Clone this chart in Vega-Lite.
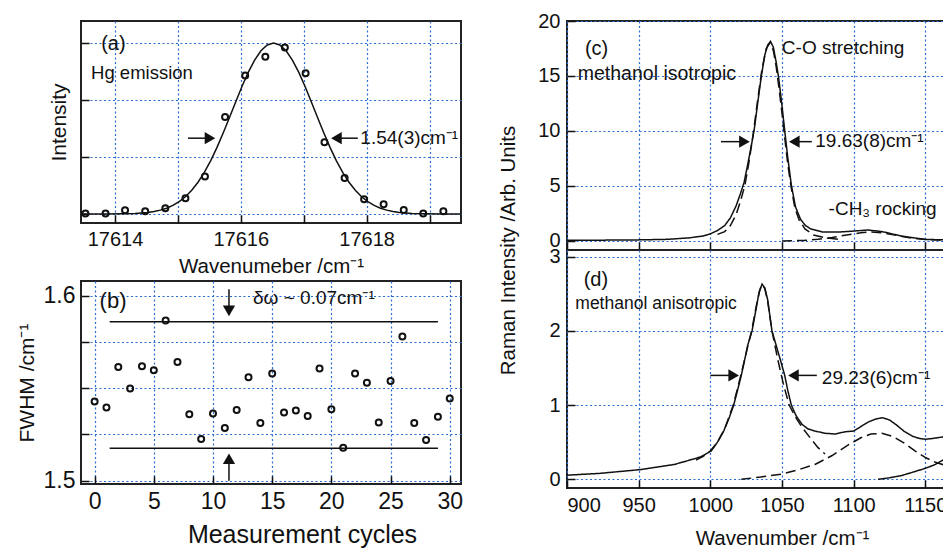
{
  "$schema": "https://vega.github.io/schema/vega-lite/v6.json",
  "background": "white",
  "padding": {"left": 15, "top": 10, "right": 0, "bottom": 0},
  "config": {
    "font": "Liberation Sans",
    "view": {"stroke": "#222", "strokeWidth": 2},
    "axis": {
      "grid": true, "gridColor": "#2a6ccf", "gridDash": [2, 2.5], "gridWidth": 1.2,
      "domain": false, "tickColor": "#111", "tickSize": -8, "tickWidth": 1.5,
      "labelFont": "Liberation Sans", "titleFont": "Liberation Sans",
      "labelColor": "#111", "titleColor": "#111", "titleFontWeight": "normal",
      "labelFontSize": 20, "titleFontSize": 20.5
    },
    "text": {"font": "Liberation Sans", "color": "#111"}
  },
  "datasets": {
    "a_pts": [
      {"x": 17613.53, "y": 0.01}, {"x": 17613.85, "y": 0.01}, {"x": 17614.16, "y": 0.065},
      {"x": 17614.48, "y": 0.047}, {"x": 17614.8, "y": 0.1}, {"x": 17615.12, "y": 0.275},
      {"x": 17615.43, "y": 0.66}, {"x": 17615.75, "y": 1.7}, {"x": 17616.07, "y": 2.43},
      {"x": 17616.39, "y": 2.76}, {"x": 17616.7, "y": 2.92}, {"x": 17617.03, "y": 2.47},
      {"x": 17617.33, "y": 1.26}, {"x": 17617.65, "y": 0.63}, {"x": 17617.96, "y": 0.26},
      {"x": 17618.27, "y": 0.17}, {"x": 17618.59, "y": 0.07}, {"x": 17618.9, "y": 0.01},
      {"x": 17619.22, "y": 0.05}
    ],
    "a_fit": [
      {"x": 17613.46, "y": 0.0}, {"x": 17613.82, "y": 0.001}, {"x": 17614.12, "y": 0.004},
      {"x": 17614.32, "y": 0.01}, {"x": 17614.52, "y": 0.028}, {"x": 17614.62, "y": 0.044},
      {"x": 17614.72, "y": 0.068}, {"x": 17614.82, "y": 0.102}, {"x": 17614.92, "y": 0.15},
      {"x": 17615.02, "y": 0.216}, {"x": 17615.12, "y": 0.303}, {"x": 17615.22, "y": 0.416},
      {"x": 17615.32, "y": 0.557}, {"x": 17615.42, "y": 0.729}, {"x": 17615.52, "y": 0.932},
      {"x": 17615.62, "y": 1.164}, {"x": 17615.72, "y": 1.42}, {"x": 17615.82, "y": 1.692},
      {"x": 17615.92, "y": 1.97}, {"x": 17616.02, "y": 2.24}, {"x": 17616.12, "y": 2.488},
      {"x": 17616.22, "y": 2.7}, {"x": 17616.32, "y": 2.863}, {"x": 17616.42, "y": 2.965},
      {"x": 17616.52, "y": 3.0}, {"x": 17616.62, "y": 2.965}, {"x": 17616.72, "y": 2.863},
      {"x": 17616.82, "y": 2.7}, {"x": 17616.92, "y": 2.488}, {"x": 17617.02, "y": 2.24},
      {"x": 17617.12, "y": 1.97}, {"x": 17617.22, "y": 1.692}, {"x": 17617.32, "y": 1.42},
      {"x": 17617.42, "y": 1.164}, {"x": 17617.52, "y": 0.932}, {"x": 17617.62, "y": 0.729},
      {"x": 17617.72, "y": 0.557}, {"x": 17617.82, "y": 0.416}, {"x": 17617.92, "y": 0.303},
      {"x": 17618.02, "y": 0.216}, {"x": 17618.12, "y": 0.15}, {"x": 17618.22, "y": 0.102},
      {"x": 17618.32, "y": 0.068}, {"x": 17618.42, "y": 0.044}, {"x": 17618.52, "y": 0.028},
      {"x": 17618.72, "y": 0.01}, {"x": 17618.92, "y": 0.004}, {"x": 17619.22, "y": 0.001},
      {"x": 17619.5, "y": 0.0}
    ],
    "b_pts": [
      {"x": 0, "y": 1.5429}, {"x": 1, "y": 1.5396}, {"x": 2, "y": 1.5616}, {"x": 3, "y": 1.5499},
      {"x": 4, "y": 1.562}, {"x": 5, "y": 1.5598}, {"x": 6, "y": 1.5867}, {"x": 7, "y": 1.5643},
      {"x": 8, "y": 1.536}, {"x": 9, "y": 1.5225}, {"x": 10, "y": 1.5364}, {"x": 11, "y": 1.5285},
      {"x": 12, "y": 1.5382}, {"x": 13, "y": 1.556}, {"x": 14, "y": 1.5312}, {"x": 15, "y": 1.558},
      {"x": 16, "y": 1.5369}, {"x": 17, "y": 1.538}, {"x": 18, "y": 1.535}, {"x": 19, "y": 1.5607},
      {"x": 20, "y": 1.5387}, {"x": 21, "y": 1.5178}, {"x": 22, "y": 1.558}, {"x": 23, "y": 1.553},
      {"x": 24, "y": 1.5315}, {"x": 25, "y": 1.5539}, {"x": 26, "y": 1.578}, {"x": 27, "y": 1.5312},
      {"x": 28, "y": 1.522}, {"x": 29, "y": 1.5346}, {"x": 30, "y": 1.5445}
    ],
    "c_lines": [
      {"s": "meas", "x": 900, "y": 0.06}, {"s": "meas", "x": 930, "y": 0.08}, {"s": "meas", "x": 950, "y": 0.1},
      {"s": "meas", "x": 970, "y": 0.15}, {"s": "meas", "x": 985, "y": 0.28}, {"s": "meas", "x": 995, "y": 0.45},
      {"s": "meas", "x": 1000, "y": 0.65}, {"s": "meas", "x": 1005, "y": 0.95}, {"s": "meas", "x": 1010, "y": 1.4},
      {"s": "meas", "x": 1014, "y": 2.1}, {"s": "meas", "x": 1018, "y": 3.2}, {"s": "meas", "x": 1021, "y": 4.3},
      {"s": "meas", "x": 1023.5, "y": 5.3}, {"s": "meas", "x": 1026, "y": 6.9}, {"s": "meas", "x": 1028.5, "y": 8.6},
      {"s": "meas", "x": 1030.7, "y": 10.2}, {"s": "meas", "x": 1033, "y": 12.5}, {"s": "meas", "x": 1035.6, "y": 15},
      {"s": "meas", "x": 1038, "y": 16.9}, {"s": "meas", "x": 1040, "y": 17.8}, {"s": "meas", "x": 1042, "y": 18.15},
      {"s": "meas", "x": 1044, "y": 17.6}, {"s": "meas", "x": 1046, "y": 16.2}, {"s": "meas", "x": 1047.7, "y": 14.8},
      {"s": "meas", "x": 1050, "y": 12.3}, {"s": "meas", "x": 1052, "y": 9.9}, {"s": "meas", "x": 1054, "y": 7.6},
      {"s": "meas", "x": 1056.5, "y": 5.1}, {"s": "meas", "x": 1059.4, "y": 3.1}, {"s": "meas", "x": 1063, "y": 1.95},
      {"s": "meas", "x": 1066.4, "y": 1.4}, {"s": "meas", "x": 1070, "y": 1.1}, {"s": "meas", "x": 1078, "y": 0.82},
      {"s": "meas", "x": 1090, "y": 0.82}, {"s": "meas", "x": 1100, "y": 0.9}, {"s": "meas", "x": 1110, "y": 1.0},
      {"s": "meas", "x": 1120, "y": 0.85}, {"s": "meas", "x": 1134, "y": 0.43}, {"s": "meas", "x": 1150, "y": 0.14},
      {"s": "meas", "x": 1165, "y": 0.1}, {"s": "meas", "x": 1200, "y": 0.08},
      {"s": "fit1", "x": 1005, "y": 0.6}, {"s": "fit1", "x": 1010, "y": 0.85}, {"s": "fit1", "x": 1014, "y": 1.4},
      {"s": "fit1", "x": 1018, "y": 2.4}, {"s": "fit1", "x": 1021, "y": 3.6}, {"s": "fit1", "x": 1024, "y": 5.0},
      {"s": "fit1", "x": 1027, "y": 7.2}, {"s": "fit1", "x": 1030, "y": 9.8}, {"s": "fit1", "x": 1033, "y": 12.8},
      {"s": "fit1", "x": 1036, "y": 15.6}, {"s": "fit1", "x": 1039, "y": 17.5}, {"s": "fit1", "x": 1041.5, "y": 18.0},
      {"s": "fit1", "x": 1044, "y": 17.3}, {"s": "fit1", "x": 1046, "y": 15.8}, {"s": "fit1", "x": 1048, "y": 13.8},
      {"s": "fit1", "x": 1050, "y": 11.6}, {"s": "fit1", "x": 1052, "y": 9.3}, {"s": "fit1", "x": 1054, "y": 7.0},
      {"s": "fit1", "x": 1056.5, "y": 4.8}, {"s": "fit1", "x": 1059, "y": 3.0}, {"s": "fit1", "x": 1062, "y": 1.9},
      {"s": "fit1", "x": 1066, "y": 1.1}, {"s": "fit1", "x": 1072, "y": 0.55}, {"s": "fit1", "x": 1080, "y": 0.3},
      {"s": "fit1", "x": 1090, "y": 0.15},
      {"s": "fit2", "x": 1050, "y": 0.0}, {"s": "fit2", "x": 1065, "y": 0.05}, {"s": "fit2", "x": 1075, "y": 0.15},
      {"s": "fit2", "x": 1085, "y": 0.32}, {"s": "fit2", "x": 1095, "y": 0.55}, {"s": "fit2", "x": 1105, "y": 0.75},
      {"s": "fit2", "x": 1112, "y": 0.82}, {"s": "fit2", "x": 1120, "y": 0.75}, {"s": "fit2", "x": 1130, "y": 0.5},
      {"s": "fit2", "x": 1140, "y": 0.28}, {"s": "fit2", "x": 1150, "y": 0.14}, {"s": "fit2", "x": 1165, "y": 0.06},
      {"s": "fit2", "x": 1200, "y": 0.02}
    ],
    "d_lines": [
      {"s": "meas", "x": 900, "y": 0.055}, {"s": "meas", "x": 923, "y": 0.08}, {"s": "meas", "x": 951, "y": 0.13},
      {"s": "meas", "x": 975, "y": 0.2}, {"s": "meas", "x": 993, "y": 0.3}, {"s": "meas", "x": 1000.5, "y": 0.38},
      {"s": "meas", "x": 1005, "y": 0.5}, {"s": "meas", "x": 1009.3, "y": 0.65}, {"s": "meas", "x": 1013, "y": 0.82},
      {"s": "meas", "x": 1016.3, "y": 1.0}, {"s": "meas", "x": 1019, "y": 1.2}, {"s": "meas", "x": 1021.6, "y": 1.4},
      {"s": "meas", "x": 1023.3, "y": 1.55}, {"s": "meas", "x": 1026, "y": 1.8}, {"s": "meas", "x": 1029.1, "y": 2.0},
      {"s": "meas", "x": 1031.5, "y": 2.25}, {"s": "meas", "x": 1034, "y": 2.52}, {"s": "meas", "x": 1036.1, "y": 2.63},
      {"s": "meas", "x": 1038, "y": 2.58}, {"s": "meas", "x": 1040, "y": 2.42}, {"s": "meas", "x": 1043, "y": 2.0},
      {"s": "meas", "x": 1046, "y": 1.8}, {"s": "meas", "x": 1049, "y": 1.6}, {"s": "meas", "x": 1051.9, "y": 1.4},
      {"s": "meas", "x": 1054, "y": 1.2}, {"s": "meas", "x": 1056.5, "y": 1.0}, {"s": "meas", "x": 1060, "y": 0.85},
      {"s": "meas", "x": 1064, "y": 0.74}, {"s": "meas", "x": 1068, "y": 0.68}, {"s": "meas", "x": 1073, "y": 0.65},
      {"s": "meas", "x": 1080, "y": 0.62}, {"s": "meas", "x": 1087, "y": 0.61}, {"s": "meas", "x": 1094, "y": 0.64},
      {"s": "meas", "x": 1100, "y": 0.65}, {"s": "meas", "x": 1105, "y": 0.71}, {"s": "meas", "x": 1110, "y": 0.77},
      {"s": "meas", "x": 1115, "y": 0.81}, {"s": "meas", "x": 1120, "y": 0.83}, {"s": "meas", "x": 1125, "y": 0.8},
      {"s": "meas", "x": 1130, "y": 0.73}, {"s": "meas", "x": 1135, "y": 0.65}, {"s": "meas", "x": 1141, "y": 0.58},
      {"s": "meas", "x": 1146, "y": 0.55}, {"s": "meas", "x": 1150, "y": 0.54}, {"s": "meas", "x": 1155, "y": 0.55},
      {"s": "meas", "x": 1162, "y": 0.57}, {"s": "meas", "x": 1170, "y": 0.6}, {"s": "meas", "x": 1200, "y": 0.65},
      {"s": "fit1", "x": 990, "y": 0.26}, {"s": "fit1", "x": 995, "y": 0.31}, {"s": "fit1", "x": 1000, "y": 0.38},
      {"s": "fit1", "x": 1005, "y": 0.5}, {"s": "fit1", "x": 1010, "y": 0.68}, {"s": "fit1", "x": 1016, "y": 1.0},
      {"s": "fit1", "x": 1021, "y": 1.38}, {"s": "fit1", "x": 1025, "y": 1.7}, {"s": "fit1", "x": 1029, "y": 2.02},
      {"s": "fit1", "x": 1032, "y": 2.33}, {"s": "fit1", "x": 1034.5, "y": 2.55}, {"s": "fit1", "x": 1036, "y": 2.62},
      {"s": "fit1", "x": 1038, "y": 2.57}, {"s": "fit1", "x": 1040, "y": 2.4}, {"s": "fit1", "x": 1043, "y": 2.0},
      {"s": "fit1", "x": 1047, "y": 1.62}, {"s": "fit1", "x": 1051, "y": 1.28}, {"s": "fit1", "x": 1055, "y": 1.0},
      {"s": "fit1", "x": 1060, "y": 0.82}, {"s": "fit1", "x": 1064, "y": 0.7}, {"s": "fit1", "x": 1070, "y": 0.55},
      {"s": "fit1", "x": 1075, "y": 0.43}, {"s": "fit1", "x": 1080, "y": 0.34},
      {"s": "fit2", "x": 1021.6, "y": 0.0}, {"s": "fit2", "x": 1035, "y": 0.03}, {"s": "fit2", "x": 1049.5, "y": 0.07},
      {"s": "fit2", "x": 1060, "y": 0.12}, {"s": "fit2", "x": 1073, "y": 0.2}, {"s": "fit2", "x": 1085, "y": 0.32},
      {"s": "fit2", "x": 1096, "y": 0.46}, {"s": "fit2", "x": 1105, "y": 0.56}, {"s": "fit2", "x": 1112, "y": 0.61},
      {"s": "fit2", "x": 1119.7, "y": 0.62}, {"s": "fit2", "x": 1127, "y": 0.58}, {"s": "fit2", "x": 1135, "y": 0.49},
      {"s": "fit2", "x": 1143, "y": 0.38}, {"s": "fit2", "x": 1150.4, "y": 0.29}, {"s": "fit2", "x": 1157, "y": 0.23},
      {"s": "fit2", "x": 1163.6, "y": 0.19}, {"s": "fit2", "x": 1175, "y": 0.13}, {"s": "fit2", "x": 1200, "y": 0.06},
      {"s": "fit3", "x": 1117, "y": 0.0}, {"s": "fit3", "x": 1125, "y": 0.02}, {"s": "fit3", "x": 1133.4, "y": 0.05},
      {"s": "fit3", "x": 1142, "y": 0.1}, {"s": "fit3", "x": 1150.4, "y": 0.15}, {"s": "fit3", "x": 1157, "y": 0.2},
      {"s": "fit3", "x": 1161.5, "y": 0.25}, {"s": "fit3", "x": 1170, "y": 0.33}, {"s": "fit3", "x": 1200, "y": 0.5}
    ]
  },
  "spacing": 32,
  "hconcat": [
    {
      "bounds": "flush",
      "spacing": 58,
      "vconcat": [
        {
          "width": 380, "height": 202,
          "layer": [
            {
              "data": {"name": "a_fit"},
              "mark": {"type": "line", "color": "#111", "strokeWidth": 1.5},
              "encoding": {
                "x": {"field": "x", "type": "quantitative",
                  "scale": {"domain": [17613.46, 17619.5], "nice": false, "zero": false},
                  "axis": {"values": [17614, 17615, 17616, 17617, 17618, 17619],
                    "labelExpr": "datum.value % 2 == 0 ? format(datum.value, 'd') : ''",
                    "title": "Wavenumeber /cm⁻¹", "labelPadding": 14.6, "titlePadding": 7, "titleFontSize": 20.5}},
                "y": {"field": "y", "type": "quantitative",
                  "scale": {"domain": [-0.158, 3.386], "nice": false, "zero": false},
                  "axis": {"values": [0, 1, 2, 3], "labels": false, "title": "Intensity", "titleFontSize": 21, "titlePadding": 10.6}}
              }
            },
            {
              "data": {"name": "a_pts"},
              "mark": {"type": "point", "shape": "circle", "size": 36, "filled": false, "stroke": "#111", "strokeWidth": 2, "opacity": 1},
              "encoding": {"x": {"field": "x", "type": "quantitative"}, "y": {"field": "y", "type": "quantitative"}}
            },
            {
              "data": {"values": [{"x": 17615.16, "x2": 17615.55, "y": 1.33}, {"x": 17617.52, "x2": 17617.86, "y": 1.33}]},
              "mark": {"type": "rule", "color": "#111", "strokeWidth": 1.5},
              "encoding": {"x": {"field": "x", "type": "quantitative"}, "x2": {"field": "x2"}, "y": {"field": "y", "type": "quantitative"}}
            },
            {
              "data": {"values": [{"x": 17615.51, "y": 1.33}]},
              "mark": {"type": "point", "shape": "triangle-right", "size": 150, "filled": true, "color": "#111", "opacity": 1},
              "encoding": {"x": {"field": "x", "type": "quantitative"}, "y": {"field": "y", "type": "quantitative"}}
            },
            {
              "data": {"values": [{"x": 17617.52, "y": 1.33}]},
              "mark": {"type": "point", "shape": "triangle-left", "size": 150, "filled": true, "color": "#111", "opacity": 1},
              "encoding": {"x": {"field": "x", "type": "quantitative"}, "y": {"field": "y", "type": "quantitative"}}
            },
            {
              "data": {"values": [{"x": 17613.78, "y": 2.98, "t": "(a)"}]},
              "mark": {"type": "text", "align": "left", "baseline": "middle", "fontSize": 20},
              "encoding": {"x": {"field": "x", "type": "quantitative"}, "y": {"field": "y", "type": "quantitative"}, "text": {"field": "t"}}
            },
            {
              "data": {"values": [{"x": 17613.62, "y": 2.47, "t": "Hg emission"}]},
              "mark": {"type": "text", "align": "left", "baseline": "middle", "fontSize": 18.5},
              "encoding": {"x": {"field": "x", "type": "quantitative"}, "y": {"field": "y", "type": "quantitative"}, "text": {"field": "t"}}
            },
            {
              "data": {"values": [{"x": 17617.9, "y": 1.34, "t": "1.54(3)cm⁻¹"}]},
              "mark": {"type": "text", "align": "left", "baseline": "middle", "fontSize": 19},
              "encoding": {"x": {"field": "x", "type": "quantitative"}, "y": {"field": "y", "type": "quantitative"}, "text": {"field": "t"}}
            }
          ]
        },
        {
          "width": 380, "height": 203,
          "layer": [
            {
              "data": {"values": [{"x": 1.27, "x2": 29.0, "y": 1.586}, {"x": 1.27, "x2": 29.0, "y": 1.5175}]},
              "mark": {"type": "rule", "color": "#111", "strokeWidth": 1.5},
              "encoding": {
                "x": {"field": "x", "type": "quantitative",
                  "scale": {"domain": [-1.15, 30.95], "nice": false, "zero": false},
                  "axis": {"values": [0, 2.5, 5, 7.5, 10, 12.5, 15, 17.5, 20, 22.5, 25, 27.5, 30],
                    "labelExpr": "datum.value % 5 == 0 ? datum.label : ''",
                    "title": "Measurement cycles", "labelFontSize": 23, "titleFontSize": 25,
                    "labelPadding": 14.5, "titlePadding": 9.2, "titleX": 221}},
                "x2": {"field": "x2"},
                "y": {"field": "y", "type": "quantitative",
                  "scale": {"domain": [1.4982, 1.6081], "nice": false, "zero": false},
                  "axis": {"values": [1.5, 1.525, 1.55, 1.575, 1.6],
                    "labelExpr": "(datum.value == 1.5 || datum.value == 1.6) ? format(datum.value, '.1f') : ''",
                    "title": "FWHM /cm⁻¹", "labelFontSize": 23, "titleFontSize": 21,
                    "labelPadding": 14, "titlePadding": 5.6}}
              }
            },
            {
              "data": {"name": "b_pts"},
              "mark": {"type": "point", "shape": "circle", "size": 36, "filled": false, "stroke": "#111", "strokeWidth": 2, "opacity": 1},
              "encoding": {"x": {"field": "x", "type": "quantitative"}, "y": {"field": "y", "type": "quantitative"}}
            },
            {
              "data": {"values": [{"x": 11.35, "y": 1.6036, "y2": 1.5919}, {"x": 11.35, "y": 1.5, "y2": 1.5119}]},
              "mark": {"type": "rule", "color": "#111", "strokeWidth": 1.5},
              "encoding": {"x": {"field": "x", "type": "quantitative"}, "y": {"field": "y", "type": "quantitative"}, "y2": {"field": "y2"}}
            },
            {
              "data": {"values": [{"x": 11.35, "y": 1.5919}]},
              "mark": {"type": "point", "shape": "triangle-down", "size": 150, "filled": true, "color": "#111", "opacity": 1},
              "encoding": {"x": {"field": "x", "type": "quantitative"}, "y": {"field": "y", "type": "quantitative"}}
            },
            {
              "data": {"values": [{"x": 11.35, "y": 1.5119}]},
              "mark": {"type": "point", "shape": "triangle-up", "size": 150, "filled": true, "color": "#111", "opacity": 1},
              "encoding": {"x": {"field": "x", "type": "quantitative"}, "y": {"field": "y", "type": "quantitative"}}
            },
            {
              "data": {"values": [{"x": 0.42, "y": 1.5973, "t": "(b)"}]},
              "mark": {"type": "text", "align": "left", "baseline": "middle", "fontSize": 22},
              "encoding": {"x": {"field": "x", "type": "quantitative"}, "y": {"field": "y", "type": "quantitative"}, "text": {"field": "t"}}
            },
            {
              "data": {"values": [{"x": 13.38, "y": 1.599, "t": "δω ~ 0.07cm⁻¹"}]},
              "mark": {"type": "text", "align": "left", "baseline": "middle", "fontSize": 19},
              "encoding": {"x": {"field": "x", "type": "quantitative"}, "y": {"field": "y", "type": "quantitative"}, "text": {"field": "t"}}
            }
          ]
        }
      ]
    },
    {
      "bounds": "flush",
      "spacing": 0,
      "vconcat": [
        {
          "width": 430, "height": 229,
          "layer": [
            {
              "data": {"name": "c_lines"},
              "mark": {"type": "line", "color": "#111", "strokeWidth": 1.5},
              "encoding": {
                "x": {"field": "x", "type": "quantitative",
                  "scale": {"domain": [900, 1200], "nice": false, "zero": false},
                  "axis": {"values": [900, 950, 1000, 1050, 1100, 1150, 1200], "labels": false, "title": null}},
                "y": {"field": "y", "type": "quantitative",
                  "scale": {"domain": [-0.82, 20], "nice": false, "zero": false},
                  "axis": {"values": [0, 5, 10, 15, 20], "format": "d", "title": null, "labelPadding": 15}},
                "strokeDash": {"field": "s", "type": "nominal",
                  "scale": {"domain": ["meas", "fit1", "fit2"], "range": [[1, 0], [10, 5], [10, 5]]}, "legend": null}
              }
            },
            {
              "data": {"values": [{"x": 1007.4, "x2": 1024, "y": 9.03}, {"x": 1058.6, "x2": 1070.8, "y": 9.03}]},
              "mark": {"type": "rule", "color": "#111", "strokeWidth": 1.5},
              "encoding": {"x": {"field": "x", "type": "quantitative"}, "x2": {"field": "x2"}, "y": {"field": "y", "type": "quantitative"}}
            },
            {
              "data": {"values": [{"x": 1023.8, "y": 9.03}]},
              "mark": {"type": "point", "shape": "triangle-right", "size": 150, "filled": true, "color": "#111", "opacity": 1},
              "encoding": {"x": {"field": "x", "type": "quantitative"}, "y": {"field": "y", "type": "quantitative"}}
            },
            {
              "data": {"values": [{"x": 1058.6, "y": 9.03}]},
              "mark": {"type": "point", "shape": "triangle-left", "size": 150, "filled": true, "color": "#111", "opacity": 1},
              "encoding": {"x": {"field": "x", "type": "quantitative"}, "y": {"field": "y", "type": "quantitative"}}
            },
            {
              "data": {"values": [{"x": 912.5, "y": 17.45, "t": "(c)"}]},
              "mark": {"type": "text", "align": "left", "baseline": "middle", "fontSize": 20},
              "encoding": {"x": {"field": "x", "type": "quantitative"}, "y": {"field": "y", "type": "quantitative"}, "text": {"field": "t"}}
            },
            {
              "data": {"values": [{"x": 907.5, "y": 15.15, "t": "methanol isotropic"}]},
              "mark": {"type": "text", "align": "left", "baseline": "middle", "fontSize": 19.5},
              "encoding": {"x": {"field": "x", "type": "quantitative"}, "y": {"field": "y", "type": "quantitative"}, "text": {"field": "t"}}
            },
            {
              "data": {"values": [{"x": 1049.9, "y": 17.57, "t": "C-O stretching"}, {"x": 1073.2, "y": 9.1, "t": "19.63(8)cm⁻¹"}, {"x": 1082.5, "y": 2.88, "t": "-CH₃ rocking"}]},
              "mark": {"type": "text", "align": "left", "baseline": "middle", "fontSize": 19},
              "encoding": {"x": {"field": "x", "type": "quantitative"}, "y": {"field": "y", "type": "quantitative"}, "text": {"field": "t"}}
            }
          ]
        },
        {
          "width": 430, "height": 238,
          "layer": [
            {
              "data": {"name": "d_lines"},
              "mark": {"type": "line", "color": "#111", "strokeWidth": 1.5},
              "encoding": {
                "x": {"field": "x", "type": "quantitative",
                  "scale": {"domain": [900, 1200], "nice": false, "zero": false},
                  "axis": {"values": [900, 950, 1000, 1050, 1100, 1150, 1200], "format": "d",
                    "title": "Wavenumber /cm⁻¹", "labelPadding": 15.5, "titlePadding": 12.6}},
                "y": {"field": "y", "type": "quantitative",
                  "scale": {"domain": [-0.1175, 3.09], "nice": false, "zero": false},
                  "axis": {"values": [0, 1, 2, 3], "format": "d", "labelPadding": 15,
                    "title": "Raman Intensity /Arb. Units", "titlePadding": 30, "titleY": 0}},
                "strokeDash": {"field": "s", "type": "nominal",
                  "scale": {"domain": ["meas", "fit1", "fit2", "fit3"], "range": [[1, 0], [10, 5], [10, 5], [10, 5]]}, "legend": null}
              }
            },
            {
              "data": {"values": [{"x": 1000, "x2": 1016.3, "y": 1.4}, {"x": 1058, "x2": 1074.3, "y": 1.4}]},
              "mark": {"type": "rule", "color": "#111", "strokeWidth": 1.5},
              "encoding": {"x": {"field": "x", "type": "quantitative"}, "x2": {"field": "x2"}, "y": {"field": "y", "type": "quantitative"}}
            },
            {
              "data": {"values": [{"x": 1016.3, "y": 1.4}]},
              "mark": {"type": "point", "shape": "triangle-right", "size": 150, "filled": true, "color": "#111", "opacity": 1},
              "encoding": {"x": {"field": "x", "type": "quantitative"}, "y": {"field": "y", "type": "quantitative"}}
            },
            {
              "data": {"values": [{"x": 1058, "y": 1.4}]},
              "mark": {"type": "point", "shape": "triangle-left", "size": 150, "filled": true, "color": "#111", "opacity": 1},
              "encoding": {"x": {"field": "x", "type": "quantitative"}, "y": {"field": "y", "type": "quantitative"}}
            },
            {
              "data": {"values": [{"x": 911.6, "y": 2.69, "t": "(d)"}]},
              "mark": {"type": "text", "align": "left", "baseline": "middle", "fontSize": 20},
              "encoding": {"x": {"field": "x", "type": "quantitative"}, "y": {"field": "y", "type": "quantitative"}, "text": {"field": "t"}}
            },
            {
              "data": {"values": [{"x": 905.8, "y": 2.36, "t": "methanol anisotropic"}]},
              "mark": {"type": "text", "align": "left", "baseline": "middle", "fontSize": 17.5},
              "encoding": {"x": {"field": "x", "type": "quantitative"}, "y": {"field": "y", "type": "quantitative"}, "text": {"field": "t"}}
            },
            {
              "data": {"values": [{"x": 1077.8, "y": 1.37, "t": "29.23(6)cm⁻¹"}]},
              "mark": {"type": "text", "align": "left", "baseline": "middle", "fontSize": 19},
              "encoding": {"x": {"field": "x", "type": "quantitative"}, "y": {"field": "y", "type": "quantitative"}, "text": {"field": "t"}}
            }
          ]
        }
      ]
    }
  ]
}
